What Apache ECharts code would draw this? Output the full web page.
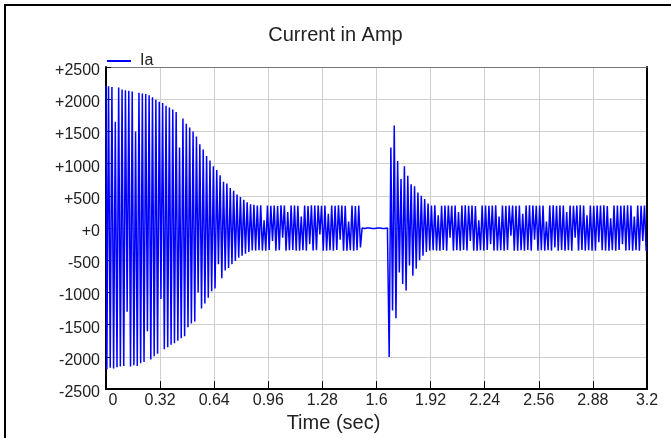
<!DOCTYPE html>
<html>
<head>
<meta charset="utf-8">
<script src="https://cdn.jsdelivr.net/npm/echarts@6/dist/echarts.min.js"></script>
<style>
  html, body { margin: 0; padding: 0; background: #fff; }
  #chart { width: 671px; height: 438px; }
</style>
</head>
<body>
<div id="chart"></div>
<script>
// Phase current Ia, one sample every 10 ms
const sampleStep = 0.01;

// start-up: decaying oscillation (0.00 - 0.89 s)
const decayRun = [
  2210, -2190, 2200, -2170, 2190, -2180, 1650, -2160, 2180, -2150,
  2150, -2140, 2140, -1300, 2130, -2150, 2120, -2130, 1500, -2140,
  2100, -2100, 2090, -2080, 2080, -1600, 2060, -2040, 2030, -1990,
  1990, -1950, 1960, -1100, 1940, -1880, 1900, -1850, 1870, -1810,
  1840, -1790, 1800, -1750, 1250, -1710, 1700, -1680, 1620, -1540,
  1560, -1480, 1500, -1450, 1420, -1000, 1300, -1250, 1220, -1170,
  1120, -1080, 1050, -980, 960, -940, 900, -560, 820, -780,
  720, -660, 690, -620, 620, -560, 580, -510, 520, -460,
  480, -430, 440, -400, 400, -370, 370, -350, 360, -350
];

// steady running (0.90 - 1.51 s)
const steadyRunA = [
  350, -345, 355, -350, 120, -350, 350, -340, 345, -200,
  350, -350, 340, -345, 355, -150, 350, -350, 250, -345,
  350, -340, 350, -350, 345, -350, 180, -345, 350, -350,
  340, -250, 355, -350, 350, -345, 350, -100, 345, -350,
  350, -350, 220, -345, 350, -350, 345, -340, 355, -180,
  350, -350, 345, -350, 100, -345, 350, -350, 340, -345,
  350, -300
];

// supply interrupted (1.52 - 1.66 s)
const outageRun = [
  0, -8, 0, -8, 0, -8, 0, -8, 0, -8, 0, -8, 0, -8, 0
];

// reconnection transient (1.67 - 1.91 s)
const recoveryRun = [
  -80, -2000, 1250, -1280, 1590, -1400, 1040, -690, 760, -870,
  960, -970, 810, -580, 680, -740, 650, -630, 550, -500,
  500, -430, 450, -370, 380
];

// steady running again (1.92 - 3.20 s)
const steadyRunB = [
  -350, 350, -345, 355, -350, 200, -350, 345, -340, 350,
  -350, 350, -150, 345, -350, 350, -345, 250, -350, 350,
  -340, 355, -350, 345, -200, 350, -350, 340, -350, 120,
  -345, 350, -350, 350, -340, 345, -250, 350, -350, 355,
  -350, 180, -345, 350, -350, 345, -340, 350, -120, 350,
  -350, 345, -350, 350, -345, 220, -350, 350, -340, 355,
  -350, 350, -180, 345, -350, 350, -345, 350, -350, 100,
  -345, 350, -350, 355, -300, 345, -350, 350, -340, 350,
  -350, 250, -345, 350, -350, 345, -150, 350, -350, 355,
  -340, 350, -350, 200, -345, 350, -350, 345, -350, 350,
  -220, 350, -345, 355, -350, 340, -350, 150, -345, 350,
  -350, 350, -340, 345, -250, 350, -350, 355, -345, 350,
  -350, 180, -345, 350, -350, 345, -200, 350, -350
];

const seriesName = 'Ia';
const timeMax = 3.2;
const timeStep = 0.32;
const ampMin = -2500;
const ampMax = 2500;
const ampStep = 500;

const iaValues = [].concat(decayRun, steadyRunA, outageRun, recoveryRun, steadyRunB);
const iaData = iaValues.map((v, i) => [i * sampleStep, v]);

const baseFont = 'Liberation Sans, Arial, sans-serif';

const chart = echarts.init(document.getElementById('chart'), null, { renderer: 'canvas' });
chart.setOption({
  animation: false,
  backgroundColor: '#fff',
  textStyle: { fontFamily: baseFont },
  title: {
    text: 'Current in Amp',
    left: 'center',
    top: 20,
    textStyle: { fontFamily: baseFont, fontSize: 20, fontWeight: 'normal', color: '#222' }
  },
  legend: {
    left: 102,
    top: 48,
    icon: 'rect',
    itemWidth: 24,
    itemHeight: 2,
    data: [seriesName],
    textStyle: { fontFamily: baseFont, fontSize: 16, color: '#222', padding: [0, 0, 0, 4] }
  },
  // page frame (top and left edges)
  graphic: [{
    type: 'line',
    shape: { x1: 4, y1: 5, x2: 671, y2: 5 },
    style: { stroke: '#000', lineWidth: 2 },
    silent: true
  }, {
    type: 'line',
    shape: { x1: 5, y1: 4, x2: 5, y2: 438 },
    style: { stroke: '#000', lineWidth: 2 },
    silent: true
  }],
  grid: { left: 106, right: 24, top: 67, bottom: 47, containLabel: false },
  xAxis: [{
    type: 'value',
    min: 0,
    max: timeMax,
    interval: timeStep,
    name: 'Time (sec)',
    nameLocation: 'middle',
    nameGap: 20,
    nameTextStyle: { fontFamily: baseFont, fontSize: 20, color: '#222', padding: [0, 86, 0, 0] },
    axisLine: { show: true, onZero: false, lineStyle: { color: '#000', width: 2 } },
    axisTick: { show: true, inside: true, length: 8, lineStyle: { color: '#000', width: 1 } },
    splitLine: { show: true, lineStyle: { color: '#cfcfcf', width: 1 } },
    axisLabel: {
      margin: 3,
      fontSize: 16,
      color: '#222',
      fontFamily: baseFont,
      formatter: v => (v === 0 ? '{first|0}' : String(parseFloat(v.toFixed(2)))),
      rich: { first: { fontSize: 16, color: '#222', fontFamily: baseFont, padding: [0, 0, 0, 14] } }
    }
  }, {
    type: 'value',
    position: 'top',
    min: 0,
    max: timeMax,
    interval: timeStep,
    axisLine: { show: true, onZero: false, lineStyle: { color: '#777', width: 1 } },
    axisTick: { show: false },
    axisLabel: { show: false },
    splitLine: { show: false }
  }],
  yAxis: [{
    type: 'value',
    min: ampMin,
    max: ampMax,
    interval: ampStep,
    axisLine: { show: true, onZero: false, lineStyle: { color: '#000', width: 2 } },
    axisTick: { show: true, inside: true, length: 5, lineStyle: { color: '#000', width: 1 } },
    splitLine: { show: true, lineStyle: { color: '#cfcfcf', width: 1 } },
    axisLabel: {
      margin: 6,
      fontSize: 16,
      color: '#222',
      fontFamily: baseFont,
      formatter: v => '{v|' + (v > 0 ? '+' + v : v === 0 ? '+0' : String(v)) + '}',
      rich: { v: { fontSize: 16, color: '#222', fontFamily: baseFont, padding: [7, 0, 0, 0] } }
    }
  }, {
    type: 'value',
    position: 'right',
    min: ampMin,
    max: ampMax,
    interval: ampStep,
    axisLine: { show: true, onZero: false, lineStyle: { color: '#000', width: 2 } },
    axisTick: { show: false },
    axisLabel: { show: false },
    splitLine: { show: false }
  }],
  series: [{
    name: seriesName,
    type: 'line',
    data: iaData,
    xAxisIndex: 0,
    yAxisIndex: 0,
    step: 'middle',
    showSymbol: false,
    symbol: 'none',
    sampling: null,
    lineStyle: { color: '#0000ff', width: 1.5 },
    itemStyle: { color: '#0000ff' },
    z: 3
  }]
});
</script>
</body>
</html>
